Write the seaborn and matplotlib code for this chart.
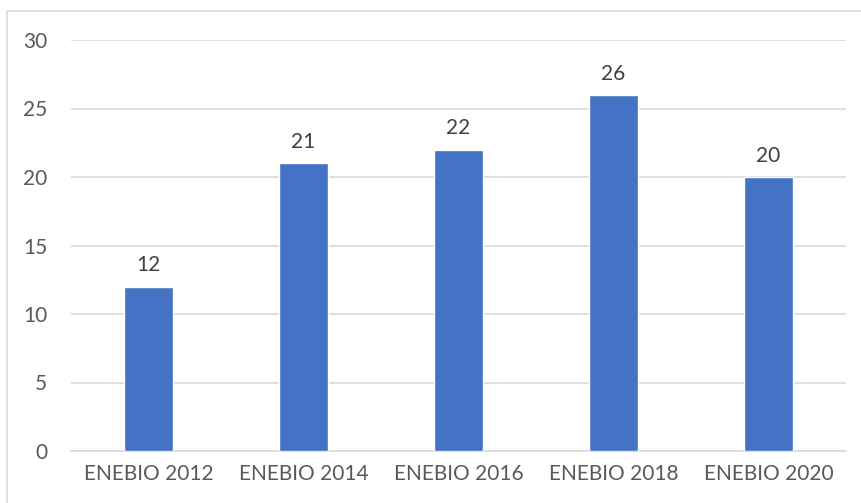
import matplotlib
matplotlib.use("Agg")
import matplotlib.pyplot as plt
from matplotlib.patches import Rectangle
import seaborn as sns
import pandas as pd

categories = ["ENEBIO 2012", "ENEBIO 2014", "ENEBIO 2016", "ENEBIO 2018", "ENEBIO 2020"]
values = [12, 21, 22, 26, 20]
yticks = [0, 5, 10, 15, 20, 25, 30]

sns.set_theme(style="white")
plt.rcParams['font.family'] = ['Lato', 'DejaVu Sans']

df = pd.DataFrame({"cat": categories, "val": values})

fig = plt.figure(figsize=(8.61, 5.03), dpi=100)
ax = fig.add_axes([71/861, 1 - 451/503, 775/861, 411/503])
sns.barplot(data=df, x="cat", y="val", color="#4472C4", saturation=1, width=0.32, ax=ax, zorder=3)

ax.set_ylim(0, 30)
ax.set_xlim(-0.5, len(categories) - 0.5)
ax.set_yticks(yticks)
ax.set_yticklabels([str(t) for t in yticks])
ax.yaxis.grid(True, color="#D9D9D9", linewidth=1.2, zorder=0)
ax.set_axisbelow(True)
for s in ["top", "right", "left"]:
    ax.spines[s].set_visible(False)
ax.spines["bottom"].set_color("#D9D9D9")
ax.spines["bottom"].set_linewidth(1.2)
ax.tick_params(axis="both", length=0, labelsize=15, labelcolor="#595959")
ax.tick_params(axis="y", pad=17)
ax.tick_params(axis="x", pad=9)
ax.set_xlabel("")
ax.set_ylabel("")

for i, v in enumerate(values):
    ax.annotate(str(v), (i, v), xytext=(0, 8), textcoords="offset points",
                ha="center", va="bottom", fontsize=15, color="#404040")

fig.add_artist(Rectangle((7/861, -0.1), 2, 1 - 11/503 + 0.1, transform=fig.transFigure,
                         fill=False, edgecolor="#D9D9D9", linewidth=1.2))

fig.savefig("out.png", dpi=100, facecolor="white")
